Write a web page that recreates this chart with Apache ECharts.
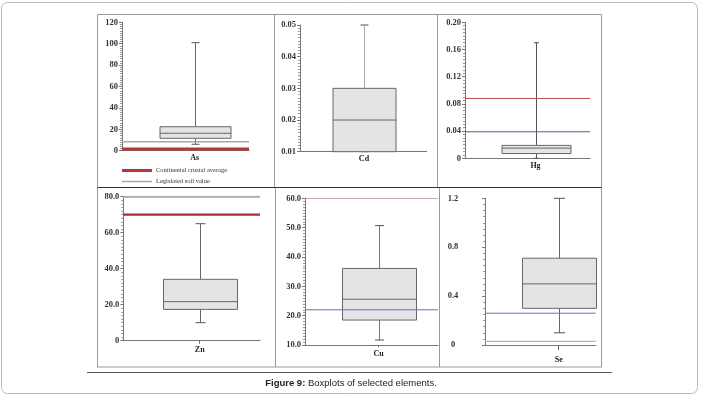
<!DOCTYPE html>
<html><head><meta charset="utf-8">
<script src="https://cdn.jsdelivr.net/npm/echarts@6/dist/echarts.min.js"></script>
<style>html,body{margin:0;padding:0;background:#fff}#c{width:703px;height:398px}</style>
</head><body><div id="c"></div>
<script>
// ---- data ----
const elements   = ['As', 'Cd', 'Hg', 'Zn', 'Cu', 'Se'];
const minVals    = [6,    0.01, 0,     10,   11.7, 0.10];
const q1Vals     = [11.6, 0.01, 0.007, 17.4, 18.5, 0.30];
const medianVals = [16.3, 0.02, 0.015, 21.7, 25.6, 0.50];
const q3Vals     = [22.4, 0.03, 0.019, 34.1, 36.1, 0.71];
const maxVals    = [101,  0.05, 0.17,  65,   50.7, 1.20];
const crustalAvg = [1.5,  null, 0.088, 70,   60,   0.03];
const legislated = [8.4,  null, 0.039, 80,   22,   0.26];
const axisMin    = [0,    0.01, 0,     0,    10,   0];
const axisMax    = [120,  0.05, 0.20,  80,   60,   1.2];
const axisStep   = [20,   0.01, 0.04,  20,   10,   0.4];
const tickDecimals = [0,  2,    2,     1,    1,    1];
const legendNames = ['Continental crustal average', 'Legislated soil value'];
const caption = ['Figure 9:', ' Boxplots of selected elements.'];

// ---- layout / style ----
const panels = [
  {left:122,   top:22.3,  width:127,   height:128.4, pos:0.572, boxW:71, capW:8,  whisker:'#666', minor:10, lMargin:4,  lAlign:'right',  nMargin:3, tLen:0,
   cStyle:{color:'#b5393b', width:3},   gStyle:{color:'#a8a8a8', width:1.5}},
  {left:300,   top:25,    width:126.7, height:126.7, pos:0.505, boxW:63, capW:8,  whisker:'#aaa', minor:10, lMargin:4,  lAlign:'right',  nMargin:3, tLen:0,
   cStyle:null, gStyle:null},
  {left:465,   top:22.3,  width:125,   height:136,   pos:0.564, boxW:69, capW:5,  whisker:'#555', minor:8,  lMargin:4,  lAlign:'right',  nMargin:4, tLen:0,
   cStyle:{color:'#c0504d', width:1},   gStyle:{color:'#56569c', width:1}},
  {left:123.3, top:196.7, width:136.7, height:144,   pos:0.559, boxW:74, capW:10, whisker:'#666', minor:10, lMargin:4,  lAlign:'right',  nMargin:5, tLen:3,
   cStyle:{color:'#a3302f', width:2.2}, gStyle:{color:'#a8a8a8', width:2}},
  {left:305,   top:198.3, width:133,   height:146.7, pos:0.554, boxW:74, capW:9,  whisker:'#777', minor:10, lMargin:4,  lAlign:'right',  nMargin:5, tLen:2,
   cStyle:{color:'#c99494', width:1},   gStyle:{color:'#6d6db3', width:1}},
  {left:485,   top:198.3, width:110.7, height:146.7, pos:0.666, boxW:74, capW:11, whisker:'#666', minor:8,  lMargin:32, lAlign:'center', nMargin:11, tLen:5,
   cStyle:{color:'#d9a99a', width:1.2}, gStyle:{color:'#6d6db3', width:1}}
];
const serif = "'Liberation Serif','Times New Roman',serif";

const makeRender = (p) => (params, api) => {
  const x = api.value(0);
  const pt = d => api.coord([x, api.value(d)]);
  const mn = pt(1), q1 = pt(2), md = pt(3), q3 = pt(4), mx = pt(5);
  const cx = Math.round(mn[0]) + 0.5;
  const hw = p.boxW / 2, hc = p.capW / 2;
  const ln = (x1, y1, x2, y2, c) => ({type:'line', shape:{x1, y1, x2, y2}, style:{stroke:c, lineWidth:1}});
  const kids = [
    ln(cx, q3[1], cx, mx[1], p.whisker),
    ln(cx - hc, mx[1], cx + hc, mx[1], '#555'),
    ln(cx, q1[1], cx, mn[1], p.whisker),
    ln(cx - hc, mn[1], cx + hc, mn[1], '#555'),
    {type:'rect', shape:{x:cx - hw, y:q3[1], width:2 * hw, height:q1[1] - q3[1]},
     style:{fill:'#e4e4e4', stroke:'#666', lineWidth:1}},
    ln(cx - hw, md[1], cx + hw, md[1], '#666')
  ];
  return {type:'group', children:kids};
};

const grid = [], xAxis = [], yAxis = [], series = [];
panels.forEach((p, i) => {
  grid.push({left:p.left, top:p.top, width:p.width, height:p.height, containLabel:false, outerBoundsMode:'none'});
  xAxis.push({
    type:'value', gridIndex:i, min:0, max:1,
    axisLine:{show:true, onZero:false, lineStyle:{color:'#777', width:1}},
    splitLine:{show:false},
    axisTick:{show:p.tLen > 0, customValues:[p.pos], length:p.tLen, lineStyle:{color:'#666'}},
    axisLabel:{show:true, customValues:[p.pos], formatter:() => elements[i], margin:p.nMargin,
      fontFamily:serif, fontWeight:'bold', fontSize:8, color:'#222'}
  });
  yAxis.push({
    type:'value', gridIndex:i, min:axisMin[i], max:axisMax[i], interval:axisStep[i],
    axisLine:{show:true, lineStyle:{color:'#777', width:1}},
    axisTick:{show:true, length:3, lineStyle:{color:'#777'}},
    minorTick:{show:true, splitNumber:p.minor, length:2, lineStyle:{color:'#999'}},
    splitLine:{show:false}, minorSplitLine:{show:false},
    axisLabel:{margin:p.lMargin, align:p.lAlign, fontFamily:serif, fontWeight:'bold', fontSize:8.5, color:'#333',
      formatter:v => (Math.abs(v) < 1e-9 ? '0' : v.toFixed(tickDecimals[i]))}
  });
  series.push({
    type:'custom', name:elements[i], xAxisIndex:i, yAxisIndex:i, silent:true, z:2,
    data:[[p.pos, minVals[i], q1Vals[i], medianVals[i], q3Vals[i], maxVals[i]]],
    encode:{x:0, y:[1, 2, 3, 4, 5]},
    renderItem:makeRender(p)
  });
  if (crustalAvg[i] != null) series.push({
    type:'line', name:legendNames[0], xAxisIndex:i, yAxisIndex:i, silent:true, z:3,
    symbol:'none', showSymbol:false, data:[[0, crustalAvg[i]], [1, crustalAvg[i]]],
    lineStyle:{color:p.cStyle.color, width:p.cStyle.width}
  });
  if (legislated[i] != null) series.push({
    type:'line', name:legendNames[1], xAxisIndex:i, yAxisIndex:i, silent:true, z:3,
    symbol:'none', showSymbol:false, data:[[0, legislated[i]], [1, legislated[i]]],
    lineStyle:{color:p.gStyle.color, width:p.gStyle.width}
  });
});

const L = (x1, y1, x2, y2, c, w) => ({type:'line', silent:true, shape:{x1, y1, x2, y2}, style:{stroke:c, lineWidth:w || 1}});
const graphic = [
  {type:'rect', silent:true, shape:{x:1.5, y:2.5, width:696, height:391, r:6}, style:{fill:'none', stroke:'#bbb', lineWidth:1}},
  {type:'rect', silent:true, shape:{x:97.5, y:14.5, width:504, height:352.5}, style:{fill:'none', stroke:'#999', lineWidth:1}},
  L(274.5, 14.5, 274.5, 188, '#999'),
  L(437.5, 14.5, 437.5, 188, '#999'),
  L(275.5, 188, 275.5, 367, '#999'),
  L(439.5, 188, 439.5, 367, '#999'),
  L(97.5, 187.5, 601.5, 187.5, '#333'),
  L(87, 372.5, 612, 372.5, '#555'),
  L(122, 170.5, 152, 170.5, panels[0].cStyle.color, 3),
  L(122, 181.5, 152, 181.5, panels[0].gStyle.color, 1.5),
  {type:'text', silent:true, style:{x:156, y:170.5, text:legendNames[0], fontFamily:serif, fontSize:6.5, fill:'#333', verticalAlign:'middle'}},
  {type:'text', silent:true, style:{x:156, y:181.5, text:legendNames[1], fontFamily:serif, fontSize:6.5, fill:'#333', verticalAlign:'middle'}},
  {type:'text', silent:true, style:{x:351, y:383, text:'{b|' + caption[0] + '}{n|' + caption[1] + '}',
    align:'center', verticalAlign:'middle',
    rich:{b:{fontFamily:"'Liberation Sans Narrow','Liberation Sans',Arial,sans-serif", fontSize:9.5, fontWeight:'bold', fill:'#222'},
          n:{fontFamily:"'Liberation Sans Narrow','Liberation Sans',Arial,sans-serif", fontSize:9.5, fill:'#222'}}}}
];

const chart = echarts.init(document.getElementById('c'), null, {renderer:'canvas'});
chart.setOption({animation:false, backgroundColor:'#fff', grid, xAxis, yAxis, series, graphic});
</script>
</body></html>
